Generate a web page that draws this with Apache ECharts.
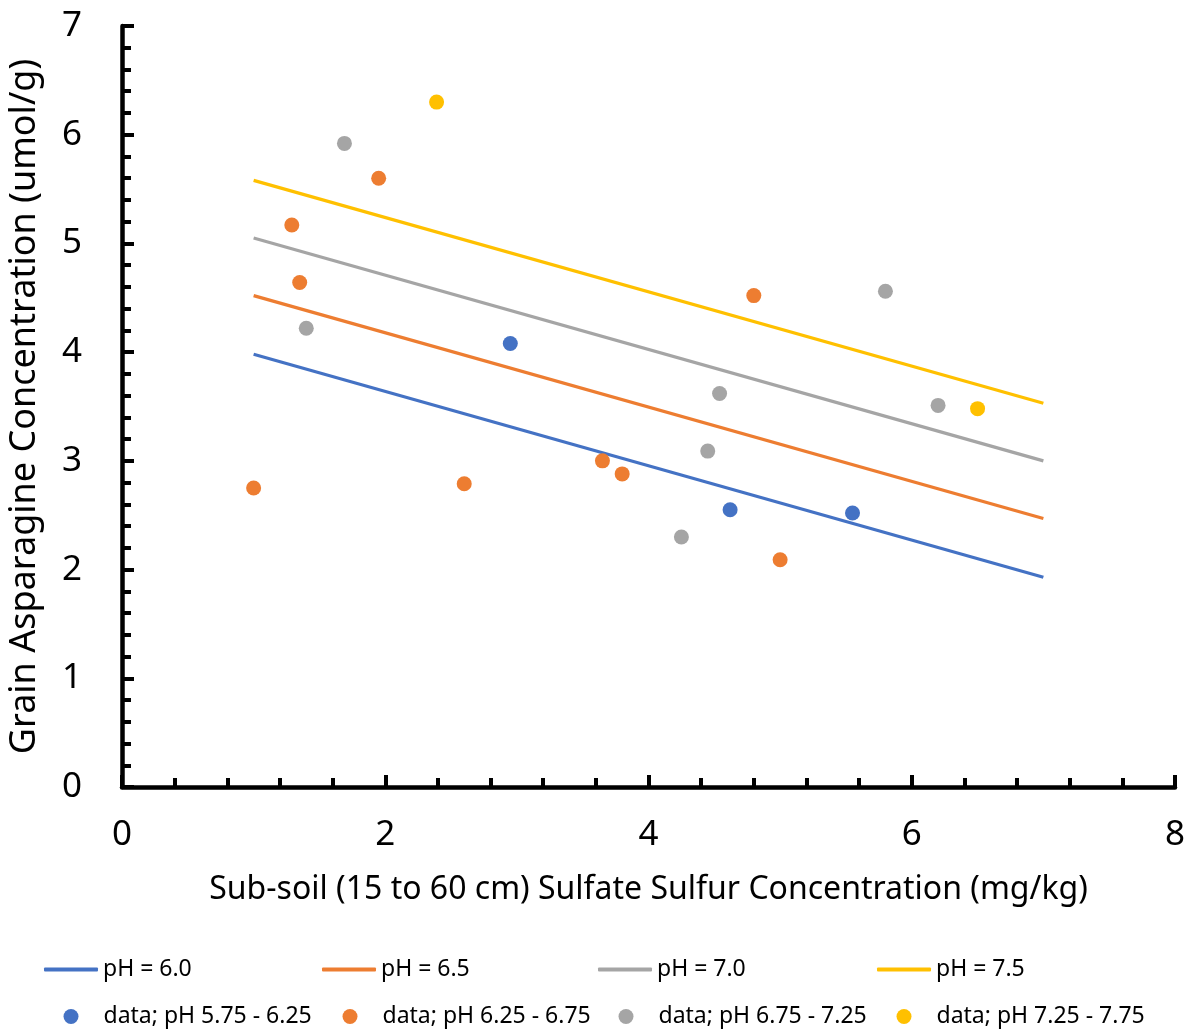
<!DOCTYPE html>
<html><head><meta charset="utf-8">
<script src="https://cdn.jsdelivr.net/npm/echarts@6/dist/echarts.min.js"></script>
<style>html,body{margin:0;padding:0;background:#fff}#c{width:1193px;height:1032px}</style>
</head><body><div id="c"></div>
<script>
// Fitted lines (two end points each)
const lineNames = ['pH = 6.0', 'pH = 6.5', 'pH = 7.0', 'pH = 7.5'];
const lineX = [1, 7];
const line60 = [3.98, 1.93];
const line65 = [4.52, 2.47];
const line70 = [5.05, 3.00];
const line75 = [5.58, 3.53];

// Observed data
const dataNames = ['data; pH 5.75 - 6.25', 'data; pH 6.25 - 6.75', 'data; pH 6.75 - 7.25', 'data; pH 7.25 - 7.75'];
const data60 = [[2.95, 4.08], [4.62, 2.55], [5.55, 2.52]];
const data65 = [[1.0, 2.75], [1.29, 5.17], [1.35, 4.64], [1.95, 5.60], [2.60, 2.79], [3.65, 3.00], [3.80, 2.88], [4.80, 4.52], [5.0, 2.09]];
const data70 = [[1.40, 4.22], [1.69, 5.92], [4.25, 2.30], [4.45, 3.09], [4.54, 3.62], [5.80, 4.56], [6.20, 3.51]];
const data75 = [[2.39, 6.30], [6.50, 3.48]];

const colors = ['#4472C4', '#ED7D31', '#A5A5A5', '#FFC000'];
const FONT = 'Noto Sans';

const lineVals = [line60, line65, line70, line75];
const dataVals = [data60, data65, data70, data75];

const series = [];
lineVals.forEach((v, i) => {
  series.push({
    name: lineNames[i], type: 'line', symbol: 'none', showSymbol: false, silent: true,
    data: lineX.map((x, k) => [x, v[k]]),
    lineStyle: { color: colors[i], width: 3.2 }, itemStyle: { color: colors[i] }, z: 2
  });
});
dataVals.forEach((v, i) => {
  series.push({
    name: dataNames[i], type: 'scatter', symbol: 'circle', symbolSize: 15,
    data: v, itemStyle: { color: colors[i], opacity: 1 }, z: 3
  });
});

const legends = [];
const lineLefts = [44, 322, 598, 877];
const dotCenters = [71, 350, 626, 904];
lineNames.forEach((n, i) => {
  legends.push({
    data: [n], left: lineLefts[i], top: 958, itemWidth: 54, itemHeight: 4, itemGap: 0,
    icon: 'roundRect',
    textStyle: { fontFamily: FONT, fontSize: 23, color: '#000' }, padding: 0
  });
});
dataNames.forEach((n, i) => {
  legends.push({
    data: [n], left: dotCenters[i] - 7.5, top: 1005, itemWidth: 15, itemHeight: 15, itemGap: 0,
    icon: 'circle',
    textStyle: { fontFamily: FONT, fontSize: 23, color: '#000', padding: [0, 0, 0, 20] }, padding: 0
  });
});

const chart = echarts.init(document.getElementById('c'), null, { renderer: 'canvas' });
chart.setOption({
  animation: false,
  backgroundColor: '#fff',
  grid: { left: 122, right: 18, top: 26, bottom: 245, containLabel: false, outerBoundsMode: 'none' },
  legend: legends,
  xAxis: {
    type: 'value', min: 0, max: 8, interval: 2,
    name: 'Sub-soil (15 to 60 cm) Sulfate Sulfur Concentration (mg/kg)',
    nameLocation: 'middle', nameGap: 87,
    nameTextStyle: { fontFamily: FONT, fontSize: 32, color: '#000' },
    axisLine: { show: true, lineStyle: { color: '#000', width: 4.5 } },
    axisTick: { show: true, inside: true, length: 12, lineStyle: { color: '#000', width: 4 } },
    minorTick: { show: true, splitNumber: 5, length: 9, lineStyle: { color: '#000', width: 4 } },
    splitLine: { show: false },
    axisLabel: { fontFamily: FONT, fontSize: 35, color: '#000', margin: 31 }
  },
  yAxis: {
    type: 'value', min: 0, max: 7, interval: 1,
    name: 'Grain Asparagine Concentration (umol/g)',
    nameLocation: 'middle', nameGap: 79, nameRotate: 90,
    nameTextStyle: { fontFamily: FONT, fontSize: 36, color: '#000' },
    axisLine: { show: true, lineStyle: { color: '#000', width: 4.5 } },
    axisTick: { show: true, inside: true, length: 12, lineStyle: { color: '#000', width: 4 } },
    minorTick: { show: true, splitNumber: 5, length: 9, lineStyle: { color: '#000', width: 4 } },
    splitLine: { show: false },
    axisLabel: { fontFamily: FONT, fontSize: 35, color: '#000', margin: 40 }
  },
  series: series
});
</script></body></html>
